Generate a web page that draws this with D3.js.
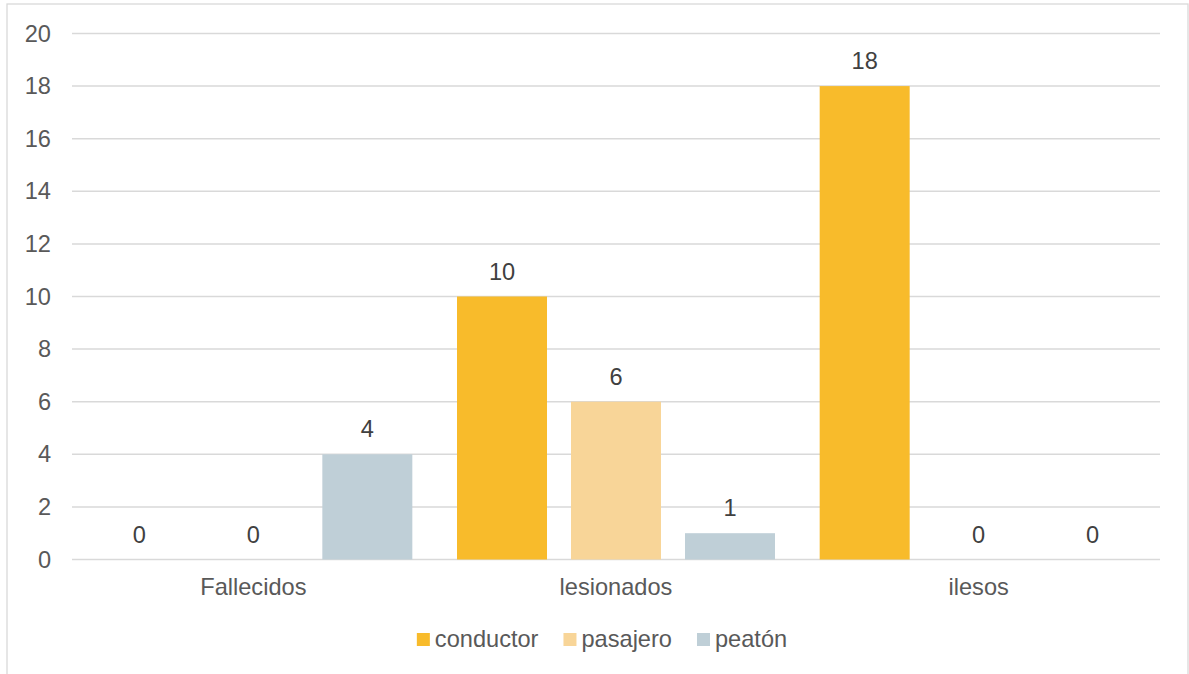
<!DOCTYPE html>
<html>
<head>
<meta charset="utf-8">
<script src="https://cdn.jsdelivr.net/npm/d3@7"></script>
<style>
  html, body { margin: 0; padding: 0; background: #fff; }
  svg { display: block; font-family: "Liberation Sans", Arial, sans-serif; }
</style>
</head>
<body>
<svg id="chart" width="1189" height="674"></svg>
<script>
const categories = ["Fallecidos", "lesionados", "ilesos"];
const seriesNames = ["conductor", "pasajero", "peatón"];
const conductor = [0, 10, 18];
const pasajero = [0, 6, 0];
const peaton = [4, 1, 0];
const yTicks = [0, 2, 4, 6, 8, 10, 12, 14, 16, 18, 20];
const colors = ["#F8BB2B", "#F8D598", "#BFCFD7"];

const seriesValues = [conductor, pasajero, peaton];

const svg = d3.select("#chart");
const W = 1189, H = 674;
const plot = { left: 72, right: 1160, top: 33.5, bottom: 559.5 };
const textColor = "#595959";
const gridColor = "#D9D9D9";
const fontSize = 23.6;

// outer border
svg.append("rect")
  .attr("x", 7).attr("y", 4)
  .attr("width", 1181).attr("height", 700)
  .attr("fill", "#fff")
  .attr("stroke", gridColor).attr("stroke-width", 1.3);

const x0 = d3.scaleBand().domain(categories).range([plot.left, plot.right]).padding(0);
const x1 = d3.scaleBand().domain(seriesNames).range([0, x0.bandwidth()])
  .paddingInner(0.2105).paddingOuter(0.196);
const y = d3.scaleLinear().domain([0, 20]).range([plot.bottom, plot.top]);

// gridlines
svg.append("g").selectAll("line").data(yTicks).join("line")
  .attr("x1", plot.left).attr("x2", plot.right)
  .attr("y1", d => y(d)).attr("y2", d => y(d))
  .attr("stroke", gridColor).attr("stroke-width", 1.5);

// y axis labels
const yAxis = d3.axisLeft(y).tickValues(yTicks).tickSize(0).tickPadding(21);
const gy = svg.append("g").attr("transform", `translate(${plot.left},0)`).call(yAxis);
gy.select(".domain").remove();
gy.selectAll("text").attr("fill", textColor).style("font-size", fontSize + "px")
  .style("font-family", '"Liberation Sans", Arial, sans-serif');

// x axis labels
const xAxis = d3.axisBottom(x0).tickSize(0).tickPadding(19);
const gx = svg.append("g").attr("transform", `translate(0,${plot.bottom})`).call(xAxis);
gx.select(".domain").remove();
gx.selectAll("text").attr("fill", textColor).style("font-size", fontSize + "px")
  .style("font-family", '"Liberation Sans", Arial, sans-serif');

// bars
const data = [];
categories.forEach((c, ci) => {
  seriesNames.forEach((s, si) => {
    data.push({ cat: c, ser: s, si: si, value: seriesValues[si][ci] });
  });
});

svg.append("g").selectAll("rect").data(data).join("rect")
  .attr("x", d => x0(d.cat) + x1(d.ser))
  .attr("y", d => y(d.value))
  .attr("width", x1.bandwidth())
  .attr("height", d => y(0) - y(d.value))
  .attr("fill", d => colors[d.si]);

// value labels
svg.append("g").selectAll("text").data(data).join("text")
  .attr("x", d => x0(d.cat) + x1(d.ser) + x1.bandwidth() / 2)
  .attr("y", d => y(d.value) - 17)
  .attr("text-anchor", "middle")
  .attr("fill", "#404040")
  .style("font-size", fontSize + "px")
  .text(d => d.value);

// legend
const legend = svg.append("g");
const sq = 13, gapText = 5, gapItem = 25;
const items = legend.selectAll("g").data(seriesNames).join("g");
items.append("rect").attr("width", sq).attr("height", sq)
  .attr("y", 633).attr("fill", (d, i) => colors[i]);
items.append("text").attr("y", 646.5).attr("fill", textColor)
  .style("font-size", fontSize + "px").text(d => d);
let widths = [];
items.select("text").each(function() { widths.push(this.getComputedTextLength()); });
const total = widths.reduce((a, w) => a + sq + gapText + w, 0) + gapItem * (widths.length - 1);
let cx = 602 - total / 2;
items.each(function(d, i) {
  const g = d3.select(this);
  g.select("rect").attr("x", cx);
  g.select("text").attr("x", cx + sq + gapText);
  cx += sq + gapText + widths[i] + gapItem;
});
</script>
</body>
</html>
